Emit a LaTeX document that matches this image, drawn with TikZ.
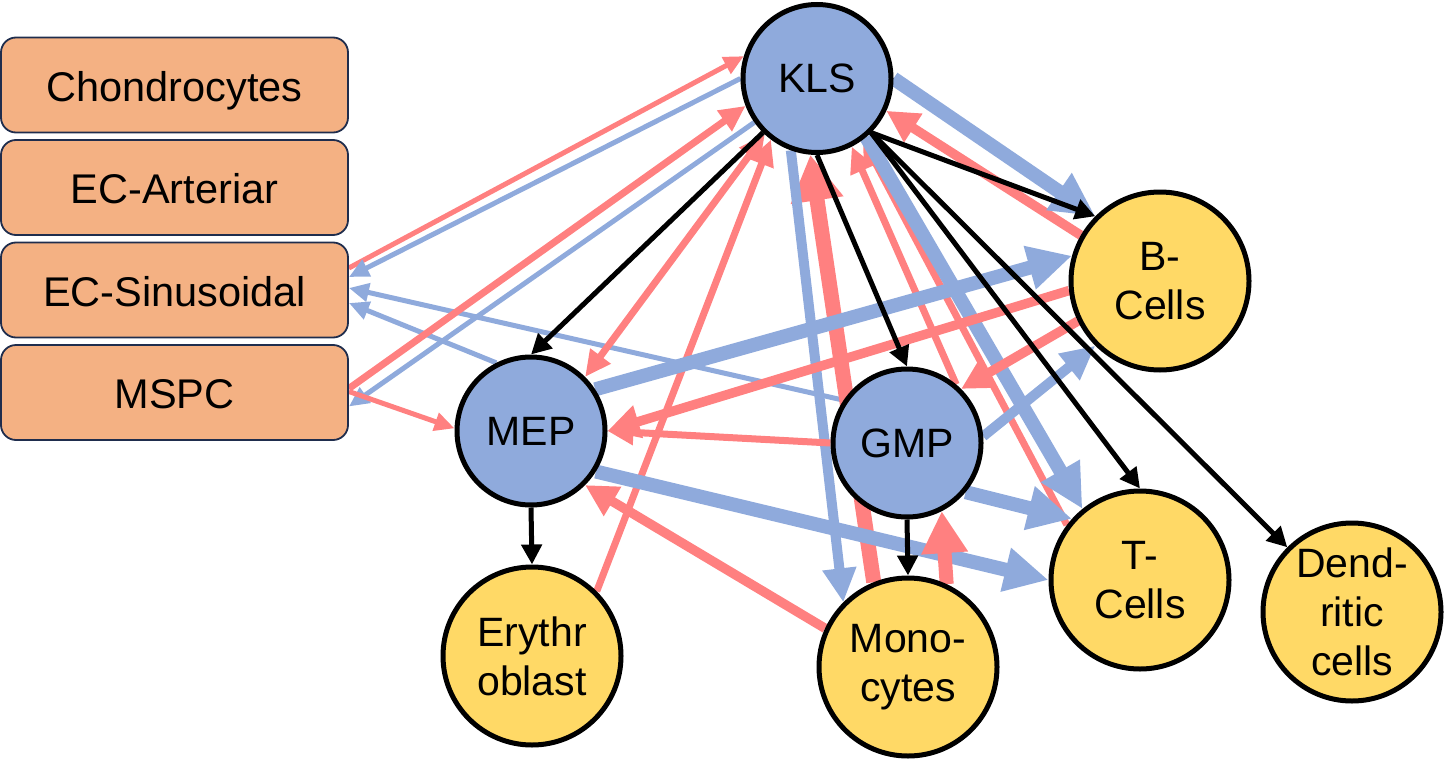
\documentclass[tikz,border=0pt]{standalone}
\usepackage{fontspec}
\setmainfont{Liberation Sans}
\usetikzlibrary{arrows.meta}
\definecolor{pinkc}{HTML}{FF8080}
\definecolor{bluec}{HTML}{8FAADC}
\definecolor{yelc}{HTML}{FFD966}
\definecolor{boxc}{HTML}{F4B183}
\definecolor{boxb}{HTML}{1F2D4D}
\pgfdeclarelayer{bg}
\pgfsetlayers{bg,main}
\tikzset{
  bluecirc/.style={circle, draw=black, line width=5pt, fill=bluec, minimum size=148pt, inner sep=0pt, align=center, font=\fontsize{41}{49}\selectfont},
  yelcirc/.style={circle, draw=black, line width=5pt, fill=yelc, minimum size=178pt, inner sep=0pt, align=center, font=\fontsize{41}{49}\selectfont},
  cellbox/.style={rectangle, rounded corners=15pt, draw=boxb, line width=1.8pt, fill=boxc, minimum width=347pt, minimum height=95pt, inner sep=0pt, text height=32pt, text depth=0pt, font=\fontsize{41.5}{49}\selectfont},
  blk/.style={draw=black, line width=5pt, -{Triangle[length=20pt,width=20pt]}},
  pthin/.style={draw=pinkc, line width=5pt, -{Triangle[length=20pt,width=18pt]}},
  pmed/.style={draw=pinkc, line width=7pt, -{Triangle[length=26pt,width=24pt]}},
  pthick/.style={draw=pinkc, line width=9.5pt, -{Triangle[length=32pt,width=32pt]}},
  pheavy/.style={draw=pinkc, line width=15pt, -{Triangle[length=46pt,width=50pt]}},
  bthin/.style={draw=bluec, line width=5pt, -{Triangle[length=20pt,width=18pt]}},
  bmed/.style={draw=bluec, line width=10pt, -{Triangle[length=34pt,width=32pt]}},
  bthick/.style={draw=bluec, line width=14pt, -{Triangle[length=44pt,width=42pt]}},
}
\begin{document}
\begin{tikzpicture}[x=1pt,y=-1pt]
\useasboundingbox (0,0) rectangle (1445,760);
% boxes
\node[cellbox] (CH) at (174.5,85) {Chondrocytes};
\node[cellbox] (ECA) at (174.5,187.5) {EC-Arteriar};
\node[cellbox] (ECS) at (174.5,290) {EC-Sinusoidal};
\node[cellbox] (MSPC) at (174.5,392.5) {MSPC};
% circles
\node[bluecirc] (KLS) at (817,78.5) {KLS};
\node[bluecirc] (MEP) at (531,431) {MEP};
\node[bluecirc] (GMP) at (907,443) {GMP};
\node[yelcirc] (BC) at (1160,281) {B-\\Cells};
\node[yelcirc] (TC) at (1140,580) {T-\\Cells};
\node[yelcirc] (DC) at (1352,612) {Dend-\\ritic\\cells};
\node[yelcirc] (ERY) at (532,656) {Erythr\\oblast};
\node[yelcirc] (MONO) at (908,667) {Mono-\\cytes};
\begin{pgfonlayer}{bg}
% left box connections
\draw[pthin] ([yshift=22pt]ECS.east) -- (KLS.163);
\draw[bthin] (KLS.180) -- ([yshift=13pt]ECS.east);
\draw[bthin] (GMP.146) -- ([yshift=2pt]ECS.east);
\draw[bthin] (MEP.117) -- ([yshift=-13pt]ECS.east);
\draw[pmed] ([yshift=4pt]MSPC.east) -- (KLS.201);
\draw[bthin] (KLS.215) -- ([yshift=-14pt]MSPC.east);
\draw[pthin] ([yshift=1pt]MSPC.east) -- (MEP.178);
% pink to KLS
\draw[pmed, {Triangle[length=26pt,width=24pt]}-{Triangle[length=26pt,width=24pt]}] (MEP.north east) -- (KLS.227);
\draw[pmed] (ERY.north east) -- (KLS.233);
\draw[pthick] (BC.150) -- (KLS.335);
\draw[pmed] (TC.143) -- (KLS.307);
\draw[pmed] (GMP.50) -- (KLS.297);
\draw[pheavy] (MONO.112) -- (KLS.265);
% blue from KLS
\draw[bthick] (KLS.east) -- (BC.north west);
\draw[bthick] (KLS.310) -- (TC.129);
\draw[bmed] (KLS.250) -- (MONO.north west);
% MEP / GMP / B relations
\draw[bthick] (MEP.33) -- (BC.164);
\draw[pthick] (BC.186) -- (MEP.east);
\draw[pmed] (GMP.west) -- (MEP.east);
\draw[pthick] (BC.206) -- (GMP.north east);
\draw[bmed] (GMP.5) -- (BC.south west);
\draw[bthick] (GMP.320) -- (TC.138);
\draw[bthick] (MEP.328) -- (TC.west);
\draw[pthick] (MONO.155) -- (MEP.south east);
\draw[pheavy, line width=14pt, -{Triangle[length=42pt,width=44pt]}] (MONO.65) -- (GMP.297);
% black lineage arrows
\draw[blk] (KLS.south west) -- (MEP.north);
\draw[blk] (KLS.south) -- (GMP.north);
\draw[blk] (KLS.south east) -- (BC.north west);
\draw[blk] (KLS.south east) -- (TC.north);
\draw[blk] (KLS.south east) -- (DC.north west);
\draw[blk] (GMP.south) -- (MONO.north);
\draw[blk] (MEP.south) -- (ERY.north);
\end{pgfonlayer}
\end{tikzpicture}
\end{document}
